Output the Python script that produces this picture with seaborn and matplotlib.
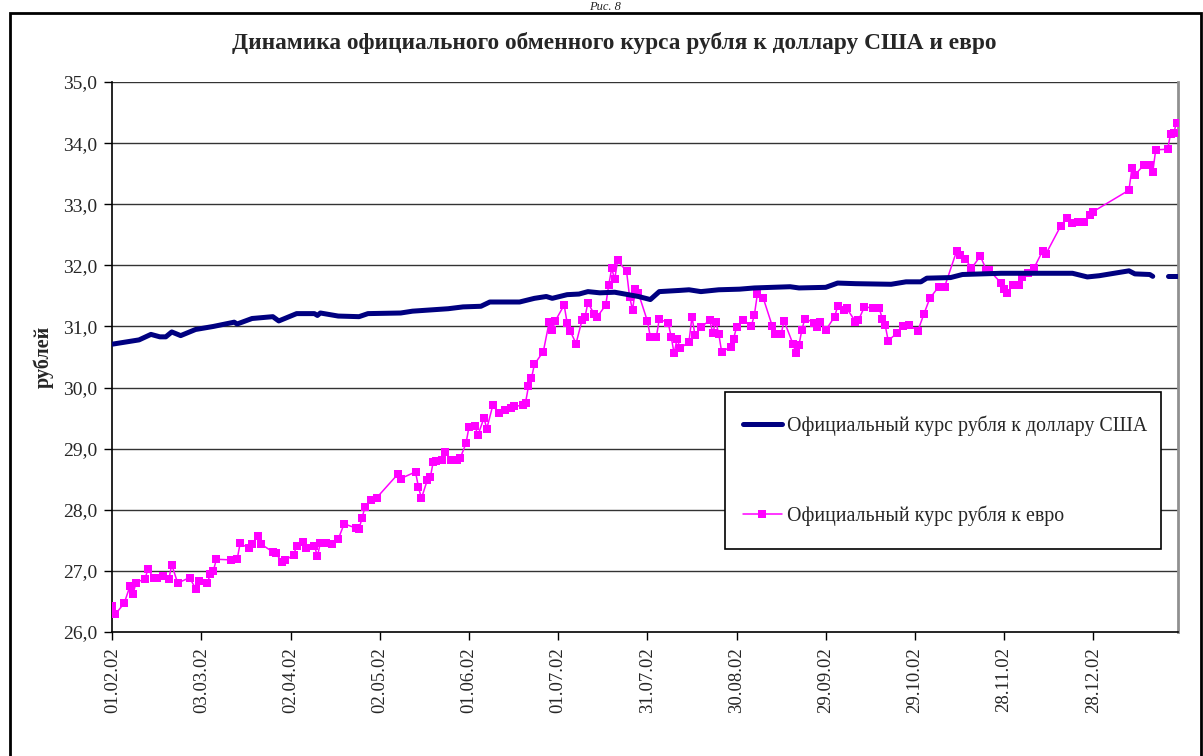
import matplotlib
matplotlib.use("Agg")
import matplotlib.pyplot as plt
import seaborn as sns
import pandas as pd
from matplotlib.patches import Rectangle
from matplotlib.lines import Line2D

# ---------------- data ----------------
fig_caption = "Рис. 8"
title = "Динамика официального обменного курса рубля к доллару США и евро"
y_label = "рублей"
usd_label = "Официальный курс рубля к доллару США"
eur_label = "Официальный курс рубля к евро"
start_date = "2002-02-01"
x_tick_labels = ["01.02.02", "03.03.02", "02.04.02", "02.05.02", "01.06.02", "01.07.02",
                 "31.07.02", "30.08.02", "29.09.02", "29.10.02", "28.11.02", "28.12.02"]
y_ticks = [26.0, 27.0, 28.0, 29.0, 30.0, 31.0, 32.0, 33.0, 34.0, 35.0]

# USD rate: days since 01.02.02, value, segment (gap over the New Year holidays)
usd_days = [0, 9, 13, 16, 18, 20, 23, 28, 34, 41, 42, 47, 54, 56, 62, 68, 69, 70, 76, 83,
            86, 97, 101, 107, 113, 118, 124, 127, 137, 142, 146, 148, 153, 157, 160, 164,
            169, 177, 181, 184, 191, 194, 198, 204, 211, 216, 228, 231, 240, 244, 250, 262,
            267, 272, 274, 282, 286, 299, 323, 328, 332, 342, 344, 349, 350, 355, 358]
usd_values = [30.71, 30.78, 30.87, 30.83, 30.83, 30.91, 30.85, 30.95, 31.00, 31.07, 31.04,
              31.13, 31.16, 31.09, 31.21, 31.21, 31.18, 31.22, 31.17, 31.16, 31.21, 31.22,
              31.25, 31.27, 31.29, 31.32, 31.33, 31.40, 31.40, 31.46, 31.49, 31.46, 31.52,
              31.53, 31.57, 31.55, 31.56, 31.49, 31.44, 31.57, 31.59, 31.60, 31.57, 31.60,
              31.61, 31.63, 31.65, 31.63, 31.64, 31.71, 31.70, 31.69, 31.73, 31.73, 31.79,
              31.80, 31.85, 31.87, 31.87, 31.81, 31.83, 31.91, 31.86, 31.85, 31.82, 31.82,
              31.82]
usd_segment = [0] * 65 + [1] * 2

# EUR rate: days since 01.02.02, value
eur_days = [0, 1, 4, 6, 7, 8, 11, 12, 14, 15, 17, 19, 20, 22, 26, 28, 29, 32, 33, 34, 35,
            40, 42, 43, 46, 47, 49, 50, 54, 55, 57, 58, 61, 62, 64, 65, 68, 69, 70, 72, 74,
            76, 78, 82, 83, 84, 85, 87, 89, 96, 97, 102, 103, 104, 106, 107, 108, 109, 111,
            112, 114, 116, 117, 119, 120, 122, 123, 125, 126, 128, 130, 132, 134, 135, 138,
            139, 140, 141, 142, 145, 147, 148, 149, 152, 153, 154, 156, 158, 159, 160, 162,
            163, 166, 167, 168, 169, 170, 173, 174, 175, 176, 177, 180, 181, 183, 184, 187,
            188, 189, 190, 191, 194, 195, 196, 198, 201, 202, 203, 204, 205, 208, 209, 210,
            212, 215, 216, 217, 219, 222, 223, 225, 226, 229, 230, 231, 232, 233, 236, 237,
            238, 240, 243, 244, 246, 247, 250, 251, 253, 256, 258, 259, 260, 261, 264, 266,
            268, 271, 273, 275, 278, 280, 284, 285, 287, 289, 292, 294, 295, 299, 300, 301,
            303, 305, 306, 308, 310, 313, 314, 319, 321, 323, 325, 327, 329, 330, 342, 343,
            344, 347, 349, 350, 351, 355, 356, 357, 358]
eur_values = [26.42, 26.29, 26.47, 26.76, 26.63, 26.81, 26.87, 27.03, 26.88, 26.88, 26.92,
              26.86, 27.10, 26.80, 26.89, 26.71, 26.84, 26.81, 26.95, 27.00, 27.19, 27.18,
              27.19, 27.45, 27.37, 27.44, 27.57, 27.44, 27.31, 27.29, 27.15, 27.17, 27.26,
              27.41, 27.48, 27.38, 27.41, 27.24, 27.46, 27.45, 27.44, 27.52, 27.77, 27.70,
              27.69, 27.86, 28.05, 28.16, 28.20, 28.58, 28.51, 28.62, 28.37, 28.19, 28.49,
              28.54, 28.79, 28.80, 28.81, 28.94, 28.81, 28.81, 28.84, 29.09, 29.36, 29.37,
              29.22, 29.50, 29.33, 29.71, 29.58, 29.64, 29.67, 29.69, 29.71, 29.75, 30.02,
              30.15, 30.38, 30.59, 31.08, 30.94, 31.09, 31.35, 31.06, 30.93, 30.72, 31.10,
              31.15, 31.39, 31.21, 31.15, 31.35, 31.68, 31.95, 31.77, 32.08, 31.90, 31.49,
              31.27, 31.61, 31.54, 31.09, 30.83, 30.82, 31.12, 31.06, 30.83, 30.56, 30.80,
              30.64, 30.75, 31.16, 30.86, 30.99, 31.10, 30.89, 31.08, 30.88, 30.58, 30.67,
              30.80, 30.99, 31.10, 31.01, 31.19, 31.53, 31.46, 31.01, 30.88, 30.88, 31.09,
              30.71, 30.56, 30.70, 30.95, 31.13, 31.06, 30.99, 31.08, 30.94, 31.16, 31.33,
              31.27, 31.30, 31.08, 31.10, 31.32, 31.30, 31.30, 31.13, 31.02, 30.77, 30.89,
              31.00, 31.02, 30.93, 31.20, 31.46, 31.65, 31.65, 32.23, 32.17, 32.11, 31.95,
              32.15, 31.93, 31.92, 31.71, 31.62, 31.54, 31.68, 31.68, 31.81, 31.87, 31.95,
              32.24, 32.18, 32.64, 32.77, 32.70, 32.71, 32.71, 32.82, 32.88, 33.23, 33.59,
              33.48, 33.64, 33.64, 33.52, 33.89, 33.90, 34.15, 34.16, 34.33]

# ---------------- style ----------------
sns.set_style("white")
plt.rcParams["font.family"] = ["Liberation Serif", "DejaVu Serif"]

USD_COLOR = "#000080"
EUR_COLOR = "#FF00FF"
W, H = 1203, 756

base = pd.Timestamp(start_date)
usd_df = pd.DataFrame({"date": base + pd.to_timedelta(usd_days, unit="D"),
                       "rate": usd_values, "seg": usd_segment})
eur_df = pd.DataFrame({"date": base + pd.to_timedelta(eur_days, unit="D"),
                       "rate": eur_values})

fig = plt.figure(figsize=(W / 100, H / 100), dpi=100)
fig.patch.set_facecolor("white")

ax_l, ax_r, ax_t, ax_b = 112.3, 1178, 82, 632
ax = fig.add_axes([ax_l / W, (H - ax_b) / H, (ax_r - ax_l) / W, (ax_b - ax_t) / H])

sns.lineplot(data=usd_df, x="date", y="rate", units="seg", estimator=None, sort=False,
             color=USD_COLOR, linewidth=3.6, ax=ax, legend=False,
             solid_capstyle="round", solid_joinstyle="round", zorder=4)
sns.lineplot(data=eur_df, x="date", y="rate", estimator=None, sort=False,
             color=EUR_COLOR, linewidth=1.1, marker="s", markersize=6.2,
             markeredgewidth=0, ax=ax, legend=False, zorder=3)

# axes
ax.set_ylim(y_ticks[0], y_ticks[-1])
ax.set_yticks(y_ticks)
ax.set_yticklabels([f"{v:.1f}".replace(".", ",") for v in y_ticks], fontsize=14)
tick_dates = pd.to_datetime(x_tick_labels, format="%d.%m.%y")
ax.set_xticks(tick_dates)
ax.set_xticklabels(x_tick_labels, rotation=90, fontsize=13.5)
ax.set_xlim(base, base + pd.Timedelta(days=358.5))
ax.set_xlabel("")
ax.set_ylabel("")

ax.grid(False)
for v in y_ticks[1:]:
    ax.axhline(v, color="#333333", linewidth=1.0, zorder=1)

ax.tick_params(axis="both", direction="out", length=6, width=1, color="black",
               pad=5, left=True, bottom=True)
ax.spines["left"].set_color("black")
ax.spines["bottom"].set_color("black")
ax.spines["left"].set_linewidth(1.2)
ax.spines["bottom"].set_linewidth(1.2)
ax.spines["top"].set_visible(False)
ax.spines["right"].set_color("#909090")
ax.spines["right"].set_linewidth(2)

# legend box
lx0, lx1, ly0, ly1 = 725, 1161, 392, 549
ax.add_patch(Rectangle(((lx0 - ax_l) / (ax_r - ax_l), (ax_b - ly1) / (ax_b - ax_t)),
                       (lx1 - lx0) / (ax_r - ax_l), (ly1 - ly0) / (ax_b - ax_t),
                       transform=ax.transAxes, facecolor="white", edgecolor="black",
                       linewidth=1.2, zorder=6))
handles = [Line2D([], [], color=USD_COLOR, linewidth=3.6, solid_capstyle="round"),
           Line2D([], [], color=EUR_COLOR, linewidth=1.1, marker="s", markersize=6.2,
                  markeredgewidth=0)]
leg = ax.legend(handles, [usd_label, eur_label], loc="center left",
                bbox_to_anchor=((743 - ax_l) / (ax_r - ax_l),
                                (ax_b - (432 + 510) / 2) / (ax_b - ax_t)),
                frameon=False, fontsize=14.3, handlelength=1.95, handletextpad=0.25,
                labelspacing=3.5, borderpad=0, borderaxespad=0)
leg.set_zorder(7)

# texts
fig.text(0.503, 1 - 1 / H, fig_caption, ha="center", va="top", fontsize=9,
         style="italic")
fig.text(614.5 / W, 1 - 42.5 / H, title, ha="center", va="center", fontsize=16.8,
         fontweight="bold")
fig.text(44 / W, 1 - 357 / H, y_label, ha="center", va="center", rotation=90,
         fontsize=14.5, fontweight="bold")

# outer frame
fig.add_artist(Rectangle((10 / W, -0.02), 1191 / W, 1.02 - 13 / H,
                         transform=fig.transFigure, fill=False, edgecolor="black",
                         linewidth=2))

fig.savefig("out.png", dpi=100)
